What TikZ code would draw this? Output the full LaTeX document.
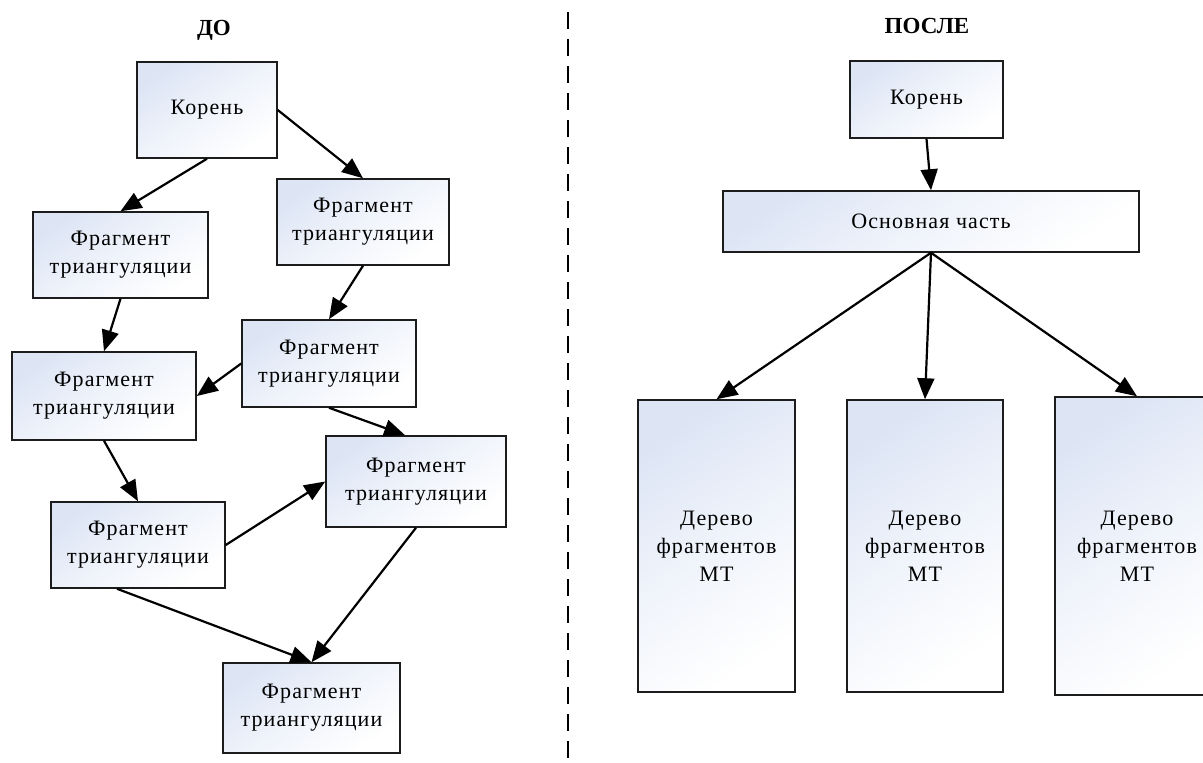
\documentclass[tikz,border=0pt]{standalone}
\usepackage{fontspec}
\setmainfont{Liberation Serif}
\newfontfamily\boxfont[LetterSpace=5]{Liberation Serif}
\usetikzlibrary{arrows.meta,calc}
\definecolor{boxblue}{RGB}{221,229,245}
\definecolor{boxline}{RGB}{28,28,28}
\tikzset{
  fragbox/.style={draw=boxline, line width=1.5pt, top color=boxblue, bottom color=white,
    middle color=white!55!boxblue, shading angle=35, inner sep=0pt, align=center,
    font=\boxfont\fontsize{22}{28}\selectfont},
  sz/.style 2 args={minimum width=#1pt, minimum height=#2pt},
  conn/.style={line width=2.2pt, draw=black, -{Triangle[length=21pt,width=17pt]}},
  paneltitle/.style={font=\bfseries\fontsize{23}{28}\selectfont, anchor=base},
  divider/.style={line width=2.5pt, dash pattern=on 17pt off 10pt},
}
\begin{document}
\begin{tikzpicture}[x=1pt,y=1pt]
\useasboundingbox (0,0) rectangle (1203,-763);
\clip (0,0) rectangle (1203,-763);

% titles
\node[paneltitle] (tdo) at (214,-35) {ДО};
\node[paneltitle] (tposle) at (927,-33) {ПОСЛЕ};

% divider
\coordinate (dtop) at (568,-12);
\coordinate (dbot) at (568,-770);
\draw[divider] (dtop) -- (dbot);

% left panel
\node[fragbox, sz={140}{96}] (korL) at (207,-110) {Корень};
\node[fragbox, sz={175}{86}] (fA) at (120.5,-255) {Фрагмент\\триангуляции};
\node[fragbox, sz={172}{86}] (fB) at (363,-222) {Фрагмент\\триангуляции};
\node[fragbox, sz={184}{88}] (fC) at (104,-396) {Фрагмент\\триангуляции};
\node[fragbox, sz={174}{87}] (fD) at (329,-363.5) {Фрагмент\\триангуляции};
\node[fragbox, sz={180}{91}] (fE) at (416,-481.5) {Фрагмент\\триангуляции};
\node[fragbox, sz={174}{86}] (fF) at (138,-545) {Фрагмент\\триангуляции};
\node[fragbox, sz={177}{90}] (fG) at (311.5,-708) {Фрагмент\\триангуляции};

\draw[conn] (korL.south) -- (fA.north);
\draw[conn] (korL.east) -- (fB.north);
\draw[conn] (fA.south) -- (fC.north);
\draw[conn] (fB.south) -- (fD.north);
\draw[conn] (fD.west) -- (fC.east);
\draw[conn] (fD.south) -- ($(fE.north west)!0.44!(fE.north east)$);
\draw[conn] (fC.south) -- (fF.north);
\draw[conn] (fF.east) -- (fE.west);
\draw[conn] ($(fF.south west)!0.38!(fF.south east)$) -- (fG.north);
\draw[conn] (fE.south) -- (fG.north);

% right panel
\node[fragbox, sz={153}{77}] (korR) at (926.5,-99.5) {Корень};
\node[fragbox, sz={416}{61}] (osn) at (931,-221.5) {Основная часть};
\node[fragbox, sz={157}{292}] (d1) at (716.5,-546) {Дерево\\фрагментов\\МТ};
\node[fragbox, sz={156}{292}] (d2) at (925,-546) {Дерево\\фрагментов\\МТ};
\node[fragbox, sz={164}{298}] (d3) at (1137,-546) {Дерево\\фрагментов\\МТ};

\draw[conn] (korR.south) -- (osn.north);
\draw[conn] (osn.south) -- (d1.north);
\draw[conn] (osn.south) -- (d2.north);
\draw[conn] (osn.south) -- (d3.north);
\end{tikzpicture}
\end{document}
